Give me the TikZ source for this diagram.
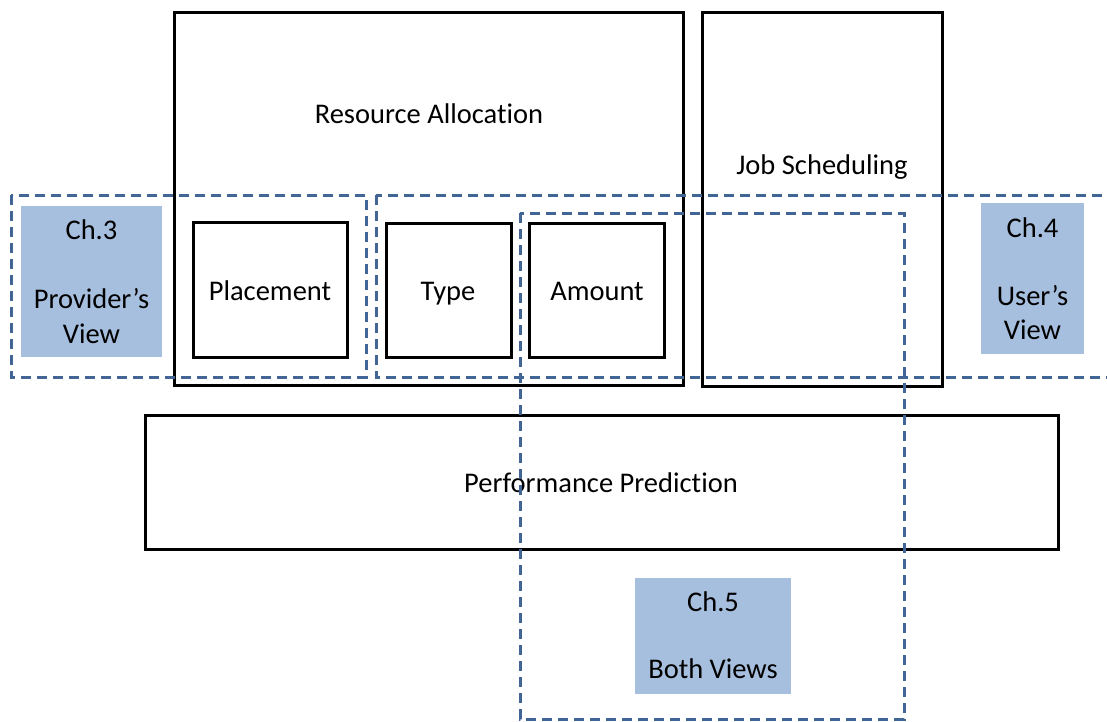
\documentclass[tikz,border=0pt]{standalone}
\usepackage{fontspec}
\setmainfont[Ligatures=NoCommon]{Carlito}
\definecolor{dashblue}{RGB}{65,102,150}
\definecolor{fillblue}{RGB}{167,191,222}
\begin{document}
\begin{tikzpicture}[x=1pt,y=-1pt,
  box/.style={draw=black,line width=3pt,inner sep=0pt},
  dbox/.style={draw=dashblue,line width=3pt,dash pattern=on 10pt off 6pt},
  bluebox/.style={fill=fillblue,draw=none},
  txt/.style={anchor=base,inner sep=0pt,font=\fontsize{28.5}{34}\selectfont}]
\useasboundingbox (0,0) rectangle (1107,721);
% black boxes
\draw[box] (174,12) rectangle (683,385);
\draw[box] (702,12) rectangle (942,386);
\draw[box] (193,222) rectangle (347,357);
\draw[box] (386,223) rectangle (511,357);
\draw[box] (529,223) rectangle (664,357);
\draw[box] (145,415) rectangle (1058,549);
% blue boxes
\fill[bluebox] (21,206) rectangle (162,357);
\fill[bluebox] (981,203) rectangle (1084,354);
\fill[bluebox] (635,578) rectangle (791,694);
% texts
\node[txt] (ra) at (429,123) {Resource Allocation};
\node[txt] (js) at (822,174) {Job Scheduling};
\node[txt] (pl) at (270,300) {Placement};
\node[txt] (ty) at (448,300) {Type};
\node[txt] (am) at (597,300) {Amount};
\node[txt] (pp) at (601,492) {Performance Prediction};
\node[txt] (c3a) at (91.5,239) {Ch.3};
\node[txt] (c3b) at (91.5,308) {Provider’s};
\node[txt] (c3c) at (91.5,343) {View};
\node[txt] (c4a) at (1032.5,237) {Ch.4};
\node[txt] (c4b) at (1032.5,305) {User’s};
\node[txt] (c4c) at (1032.5,339) {View};
\node[txt] (c5a) at (713,611) {Ch.5};
\node[txt] (c5b) at (713,678) {Both Views};
% dashed boxes
\draw[dbox] (11,195) rectangle (366,377);
\draw[dbox] (376,195) rectangle (1125,377);
\draw[dbox] (520,213) rectangle (904,719);
\end{tikzpicture}
\end{document}
